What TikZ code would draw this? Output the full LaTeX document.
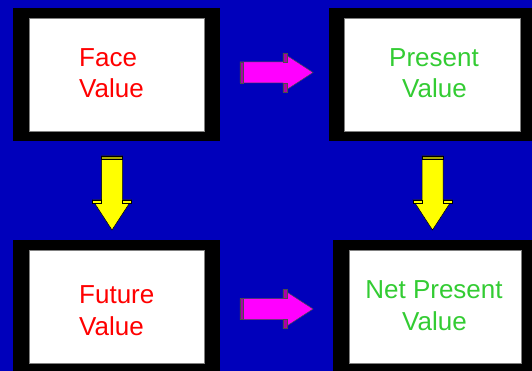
\documentclass[tikz,border=0pt]{standalone}
\usepackage{fontspec}
\setmainfont{Liberation Sans}
\definecolor{bgblue}{RGB}{0,0,187}
\definecolor{npvgreen}{RGB}{51,204,51}
\definecolor{txtred}{RGB}{255,0,0}
\definecolor{magfill}{RGB}{255,0,255}
\definecolor{magdark}{RGB}{170,0,170}
\definecolor{yelfill}{RGB}{255,255,0}
\definecolor{yeldark}{RGB}{170,170,0}
\tikzset{
  x=1pt, y=-1pt,
  frame/.style={fill=black, draw=none, inner sep=0pt},
  card/.style={fill=white, draw=gray, line width=0.8pt, inner sep=0pt},
  label/.style={font=\fontsize{26}{31}\selectfont, inner sep=0pt},
  redtxt/.style={label, text=txtred},
  greentxt/.style={label, text=npvgreen},
  % block arrow pointing right, origin at the middle of the tail
  rarrow/.pic={
    \path[fill=magfill, draw=black!70, line width=0.5pt]
      (0,-10.5) -- (43,-10.5) -- (43,-19.5) -- (73,0) -- (43,19.5)
      -- (43,10.5) -- (0,10.5) -- cycle;
    \path[fill=magdark, draw=black!70, line width=0.4pt] (0,-10.5) rectangle (3,10.5);
    \path[fill=magdark, draw=black!70, line width=0.4pt] (43,-19.5) rectangle (47,-10.5);
    \path[fill=magdark, draw=black!70, line width=0.4pt] (43,10.5) rectangle (47,19.5);
  },
  % block arrow pointing down, origin at the middle of the tail
  darrow/.pic={
    \path[fill=yelfill, draw=black, line width=0.5pt]
      (-10.5,0) -- (10.5,0) -- (10.5,44) -- (19.5,44) -- (0,74)
      -- (-19.5,44) -- (-10.5,44) -- cycle;
    \path[fill=yeldark, draw=black, line width=0.4pt] (-10.5,0) rectangle (10.5,3);
    \path[fill=yelfill, draw=black, line width=0.4pt] (-19.5,44) rectangle (-10.5,47.5);
    \path[fill=yelfill, draw=black, line width=0.4pt] (10.5,44) rectangle (19.5,47.5);
  }
}
\begin{document}
\begin{tikzpicture}
  \useasboundingbox (0,0) rectangle (532,371);
  \clip (0,0) rectangle (532,371);
  \fill[bgblue] (0,0) rectangle (532,371);

  % framed cards
  \node[frame, minimum width=207pt, minimum height=133pt] (fv) at (116.5,74.5) {};
  \node[card, minimum width=175pt, minimum height=113pt] (fvc) at (116.5,74.5) {};
  \node[frame, minimum width=205pt, minimum height=133pt] (pv) at (431.5,74.5) {};
  \node[card, minimum width=176pt, minimum height=113pt] (pvc) at (432,74.5) {};
  \node[frame, minimum width=207pt, minimum height=134pt] (fu) at (116.5,307) {};
  \node[card, minimum width=175pt, minimum height=113pt] (fuc) at (116.5,306.5) {};
  \node[frame, minimum width=203pt, minimum height=134pt] (np) at (434.5,307) {};
  \node[card, minimum width=172pt, minimum height=113pt] (npc) at (435,306.5) {};

  % card texts
  \node[redtxt, anchor=base west] (fv1) at (79,67) {Face};
  \node[redtxt, anchor=base west] (fv2) at (79,98) {Value};
  \node[greentxt, anchor=base] (pv1) at (434,67) {Present};
  \node[greentxt, anchor=base] (pv2) at (434.5,98) {Value};
  \node[redtxt, anchor=base west] (fu1) at (79,303) {Future};
  \node[redtxt, anchor=base west] (fu2) at (79,335) {Value};
  \node[greentxt, anchor=base] (np1) at (434,298) {Net Present};
  \node[greentxt, anchor=base] (np2) at (434.5,330) {Value};

  % block arrows between the cards
  \coordinate (a1) at (240,72.5);
  \coordinate (a2) at (240,309);
  \coordinate (a3) at (112,156);
  \coordinate (a4) at (432.5,156);
  \pic at (a1) {rarrow};
  \pic at (a2) {rarrow};
  \pic at (a3) {darrow};
  \pic at (a4) {darrow};
\end{tikzpicture}
\end{document}
